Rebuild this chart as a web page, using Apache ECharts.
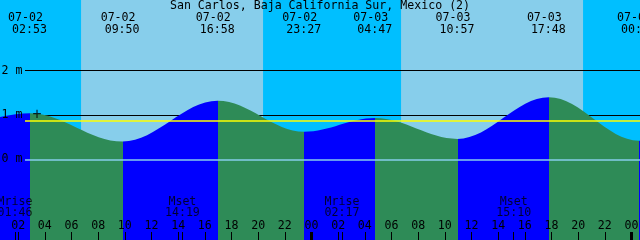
<!DOCTYPE html>
<html><head><meta charset="utf-8">
<script src="https://cdn.jsdelivr.net/npm/echarts@6/dist/echarts.min.js"></script>
<style>html,body{margin:0;padding:0;background:#00BFFF}#c{width:640px;height:240px}</style>
</head><body><div id="c"></div>
<script>
// ---------- data ----------
const chartTitle = 'San Carlos, Baja California Sur, Mexico (2)';
// tide extremes (first and last are just outside the visible window, estimated)
const tideDates  = ['07-01','07-02','07-02','07-02','07-02','07-03','07-03','07-03','07-04','07-04'];
const tideClock  = ['20:30','02:53','09:50','16:58','23:27','04:47','10:57','17:48','00:34','07:30'];
const tideLevels = [0.60, 1.04, 0.40, 1.32, 0.62, 0.93, 0.46, 1.40, 0.42, 0.90];
// daylight
const sunDates     = ['07-02','07-03'];
const sunriseClock = ['06:43','06:43'];
const sunsetClock  = ['20:22','20:22'];
// moon events
const moonKinds = ['Mrise','Mset','Mrise','Mset'];
const moonDates = ['07-02','07-02','07-03','07-03'];
const moonClock = ['01:46','14:19','02:17','15:10'];
// level lines
const levelTicks = [0, 1, 2];
const meanLevel = 0.88;
const plusDate = '07-02', plusClock = '03:25', plusLevel = 1.0;
const hourStep = 2;

// ---------- helpers ----------
function hoursOf(date, clock) {
  const day = parseInt(date.slice(3), 10) - 2;
  const [h, m] = clock.split(':').map(Number);
  return day * 24 + h + m / 60;
}
const F = 'DejaVu Sans Mono', FS = 11.6;
const PX_PER_H = 640 / 48, GRID_LEFT = -8.5, X_MIN = 0, X_MAX = 50;
const PX_PER_M = 44.3, ZERO_PX = 159.3, Y_MIN = -2, Y_MAX = 4;
const gridTop = ZERO_PX - Y_MAX * PX_PER_M;
const gridBottomPx = ZERO_PX - Y_MIN * PX_PER_M;
const yAt = py => (ZERO_PX - py) / PX_PER_M;
const tAt = px => (px - GRID_LEFT) / PX_PER_H;
const inRange = t => t >= X_MIN && t <= X_MAX;

const tideT = tideDates.map((d, i) => hoursOf(d, tideClock[i]));
const moonT = moonDates.map((d, i) => hoursOf(d, moonClock[i]));
const bands = sunDates.map((d, i) => [{xAxis: hoursOf(d, sunriseClock[i])}, {xAxis: hoursOf(d, sunsetClock[i])}]);
const midnights = [];
for (let t = 24; t <= X_MAX; t += 24) midnights.push(t);

const RISE = '#0000FF', FALL = '#2E8B57';
const pieces = [];
for (let i = 0; i < tideT.length - 1; i++) {
  const p = {color: tideLevels[i + 1] > tideLevels[i] ? RISE : FALL};
  if (i > 0) p.gte = tideT[i];
  if (i < tideT.length - 2) p.lt = tideT[i + 1];
  pieces.push(p);
}
const pad2 = n => String(n).padStart(2, '0');
const lineStart = tAt(25);
const txt = {fontFamily: F, fontSize: FS, color: '#000'};

const chart = echarts.init(document.getElementById('c'), null, {renderer: 'canvas'});
chart.setOption({
  animation: false,
  backgroundColor: '#00BFFF',
  title: {text: chartTitle, left: 'center', top: 0, padding: 0,
          textStyle: Object.assign({fontWeight: 'normal', lineHeight: 12}, txt)},
  grid: {left: GRID_LEFT, top: gridTop, width: (X_MAX - X_MIN) * PX_PER_H, height: gridBottomPx - gridTop,
         containLabel: false, outerBoundsMode: 'none'},
  visualMap: {type: 'piecewise', show: false, dimension: 0, seriesIndex: 2, pieces: pieces},
  xAxis: [{
    type: 'value', position: 'bottom', min: X_MIN, max: X_MAX, interval: hourStep, offset: 240 - gridBottomPx,
    z: 10, splitLine: {show: false},
    axisLine: {show: false, onZero: false},
    axisTick: {show: true, inside: true, length: 8, lineStyle: {color: '#000', width: 1}},
    axisLabel: Object.assign({inside: true, margin: 14.5, verticalAlign: 'middle', formatter: v => pad2(v % 24)}, txt)
  }, {
    type: 'value', position: 'top', min: X_MIN, max: X_MAX, offset: gridTop,
    z: 10, splitLine: {show: false},
    axisLine: {show: false, onZero: false}, axisTick: {show: false},
    axisLabel: {inside: true, margin: 23.7, verticalAlign: 'middle',
      customValues: tideT.filter(inRange),
      formatter: v => { const i = tideT.findIndex(t => Math.abs(t - v) < 1e-6); return '{d|' + tideDates[i] + '}\n{t|' + tideClock[i] + '}'; },
      rich: {d: Object.assign({lineHeight: 12, padding: [0, 9, 0, 0]}, txt), t: Object.assign({lineHeight: 12, padding: [0, 1, 0, 0]}, txt)}}
  }],
  yAxis: {type: 'value', min: Y_MIN, max: Y_MAX, interval: 1, z: 10,
    splitLine: {show: false}, axisLine: {show: false, onZero: false}, axisTick: {show: false},
    axisLabel: Object.assign({inside: true, margin: 10, align: 'left', formatter: v => levelTicks.includes(v) ? v + ' m' : ''}, txt)},
  series: [
    {type: 'line', data: [], silent: true,
     markArea: {z: 1, silent: true, itemStyle: {color: '#87CEEB'}, data: bands}},
    {type: 'line', data: [], silent: true,
     markLine: {z: 2, silent: true, symbol: ['none', 'none'], label: {show: false},
       lineStyle: {color: '#000', width: 1, type: 'solid'},
       data: levelTicks.filter(v => v !== 0).map(v => [{coord: [lineStart, v]}, {coord: [X_MAX, v]}])}},
    {type: 'line', z: 3, silent: true, smooth: 0.36, smoothMonotone: 'x', symbol: 'none', showSymbol: false,
     data: tideT.map((t, i) => [t, tideLevels[i]]),
     lineStyle: {width: 0, opacity: 0}, areaStyle: {opacity: 1, origin: 'start'}},
    {type: 'line', data: [], silent: true,
     markLine: {z: 6, silent: true, symbol: ['none', 'none'], label: {show: false},
       lineStyle: {type: 'solid'},
       data: [
         [{coord: [lineStart, meanLevel], lineStyle: {color: '#FFFF00', width: 1.5, type: 'solid'}}, {coord: [X_MAX, meanLevel]}],
         [{coord: [lineStart, 0], lineStyle: {color: '#87CEEB', width: 1.5, type: 'solid'}}, {coord: [X_MAX, 0]}]
       ].concat(midnights.map(t => [{coord: [t, yAt(232)], lineStyle: {color: '#000', width: 3, type: 'solid'}}, {coord: [t, yAt(240)]}]))
        .concat(moonT.map(t => [{coord: [t, yAt(232)], lineStyle: {color: '#000', width: 1, type: 'solid'}}, {coord: [t, yAt(240)]}]))}},
    {type: 'scatter', z: 10, silent: true, symbolSize: 1, itemStyle: {color: 'rgba(0,0,0,0)'},
     data: moonT.map(t => [t, yAt(207.5)]),
     label: Object.assign({show: true, position: 'inside', lineHeight: 11.6,
       formatter: p => moonKinds[p.dataIndex] + '\n' + moonClock[p.dataIndex]}, txt)},
    {type: 'scatter', z: 10, silent: true, symbolSize: 1, itemStyle: {color: 'rgba(0,0,0,0)'},
     data: [[hoursOf(plusDate, plusClock), plusLevel]],
     label: {show: true, position: 'inside', formatter: '+', fontFamily: F, fontSize: 15, color: '#000'}}
  ]
});
</script></body></html>
